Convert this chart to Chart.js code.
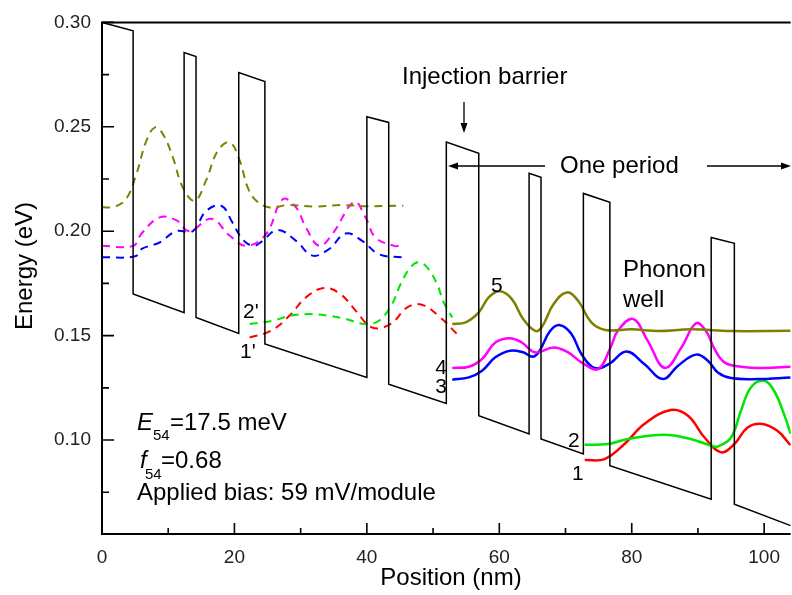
<!DOCTYPE html>
<html>
<head>
<meta charset="utf-8">
<script src="https://cdn.jsdelivr.net/npm/chart.js@4.4.0/dist/chart.umd.min.js"></script>
<style>
  html, body { margin: 0; padding: 0; background: #fff; }
  #wrap { width: 792px; height: 595px; }
</style>
</head>
<body>
<div id="wrap"><canvas id="myChart" width="792" height="595"></canvas></div>
<script>
// conduction band edge (position nm / energy eV)
const bandX = [0, 4.7, 4.7, 12.4, 12.4, 14.2, 14.2, 20.65, 20.65, 24.6, 24.6, 40.0, 40.0, 43.3, 43.3, 52.0,
               52.0, 56.9, 56.9, 64.5, 64.5, 66.3, 66.3, 72.7, 72.7, 76.7, 76.7, 92.0, 92.0, 95.5, 95.5, 104];
const bandY = [0.300, 0.296, 0.170, 0.161, 0.2856, 0.2836, 0.1587, 0.151, 0.276, 0.2717, 0.146, 0.130, 0.2548, 0.2521, 0.1267, 0.1175,
               0.2427, 0.2373, 0.1116, 0.1029, 0.2277, 0.2258, 0.1005, 0.0933, 0.2181, 0.2138, 0.0877, 0.0717, 0.197, 0.1942, 0.0693, 0.059];

// current period, solid
const s5x = [52.9, 54.9, 56.9, 58.4, 60.1, 61.9, 63.6, 65.4, 66.4, 68.2, 70.2, 71.9, 73.9, 76.0, 80.0, 84.0, 89.0, 95.0, 104];
const s5y = [0.1556, 0.1563, 0.1611, 0.1683, 0.1712, 0.1675, 0.158, 0.1523, 0.1540, 0.1651, 0.1707, 0.1667, 0.1563, 0.1527, 0.1530, 0.1522, 0.1530, 0.1522, 0.1523];

const s4x = [52.9, 55.4, 57.4, 59.4, 61.6, 63.4, 65.4, 68.2, 70.4, 72.4, 74.9, 76.8, 77.9, 80.2, 82.4, 85.0, 87.5, 89.7, 91.2, 92.5, 94.0, 96.5, 100, 104];
const s4y = [0.1345, 0.1351, 0.1388, 0.1467, 0.1488, 0.1467, 0.1420, 0.1443, 0.1420, 0.1372, 0.1340, 0.1443, 0.1523, 0.1580, 0.1476, 0.1345, 0.1443, 0.1559, 0.1523, 0.1436, 0.1372, 0.1351, 0.1345, 0.1351];

const s3x = [52.9, 55.4, 57.4, 59.4, 61.6, 63.6, 65.1, 66.1, 67.7, 69.2, 70.9, 72.4, 74.4, 76.6, 79.2, 81.9, 84.7, 87.0, 89.7, 91.5, 93.0, 95.0, 99.0, 104];
const s3y = [0.1289, 0.1300, 0.1332, 0.1396, 0.1428, 0.1420, 0.1399, 0.1428, 0.1523, 0.1550, 0.1508, 0.1412, 0.1345, 0.1365, 0.1424, 0.1364, 0.1292, 0.1356, 0.1409, 0.1380, 0.1324, 0.1297, 0.1292, 0.1300];

const s2x = [72.9, 76.4, 79.4, 84.9, 88.9, 92.0, 93.0, 95.0, 96.5, 98.0, 100.0, 101.5, 103.0, 104];
const s2y = [0.0977, 0.0981, 0.1005, 0.1025, 0.1005, 0.0973, 0.0969, 0.1012, 0.1140, 0.1252, 0.1284, 0.1236, 0.1124, 0.1030];

const s1x = [72.9, 75.9, 78.9, 81.9, 85.9, 88.5, 91.0, 93.5, 95.5, 97.5, 99.7, 102.0, 104];
const s1y = [0.0904, 0.0909, 0.0981, 0.1077, 0.1144, 0.1116, 0.1012, 0.0941, 0.0981, 0.1060, 0.1077, 0.1044, 0.0975];

// previous period, dashed
const d5x = [0, 2, 3.7, 5.2, 6.7, 8.0, 9.2, 10.7, 12.2, 14.0, 15.7, 17.5, 19.3, 20.8, 22.0, 23.3, 25.3, 28, 32, 36, 40, 45.5];
const d5y = [0.2114, 0.2118, 0.2157, 0.2274, 0.2433, 0.2497, 0.2465, 0.2354, 0.2210, 0.2146, 0.2242, 0.2386, 0.2425, 0.2338, 0.2210, 0.2146, 0.2114, 0.2125, 0.2118, 0.2125, 0.2120, 0.2122];

const d4x = [0, 4.7, 6.0, 8.7, 11.2, 13.2, 16.5, 19.3, 21.8, 24.8, 27.3, 29.3, 30.8, 32.8, 34.8, 38.1, 39.8, 41.3, 44.1, 45];
const d4y = [0.193, 0.193, 0.199, 0.2066, 0.2053, 0.2000, 0.2060, 0.1978, 0.1930, 0.1987, 0.2153, 0.2114, 0.2018, 0.1930, 0.1987, 0.2140, 0.2066, 0.1970, 0.1930, 0.1930];

const d3x = [0, 5.0, 6.0, 8.7, 11.2, 13.7, 15.7, 18.0, 19.7, 21.2, 22.8, 24.1, 26.5, 29.3, 31.8, 34.3, 36.8, 39.3, 41.8, 45.3];
const d3y = [0.1875, 0.1880, 0.1915, 0.1946, 0.2000, 0.2000, 0.2096, 0.2122, 0.2042, 0.1962, 0.1930, 0.1950, 0.2006, 0.1954, 0.1883, 0.1915, 0.1989, 0.1954, 0.1890, 0.1875];

const d2x = [22.3, 25.8, 28.3, 31.3, 34.3, 36.8, 39.6, 41.8, 43.8, 45.1, 46.6, 47.8, 49.1, 50.6, 51.6, 52.9];
const d2y = [0.1556, 0.1571, 0.1595, 0.1603, 0.1595, 0.1580, 0.1556, 0.1571, 0.1651, 0.1747, 0.1827, 0.1851, 0.1827, 0.1747, 0.1659, 0.1587];

const d1x = [22.3, 25.5, 28.3, 30.8, 33.5, 36.0, 38.3, 40.8, 43.6, 46.1, 48.3, 51.1, 53.6];
const d1y = [0.1491, 0.1523, 0.1595, 0.1683, 0.1728, 0.1699, 0.1620, 0.1539, 0.1556, 0.1635, 0.1648, 0.1587, 0.1508];

const xTicks = [0, 20, 40, 60, 80, 100];
const yTicks = [0.10, 0.15, 0.20, 0.25, 0.30];

const OLIVE = '#808000', MAGENTA = '#ff00ff', BLUE = '#0000ff', GREEN = '#00e600', RED = '#ff0000';
const FONT = 'Arial, "Liberation Sans", sans-serif';

const pts = (xs, ys) => xs.map((x, i) => ({x: x, y: ys[i]}));

function curve(xs, ys, color, dashed) {
    return {
        data: pts(xs, ys),
        borderColor: color,
        borderWidth: dashed ? 2 : 2.5,
        borderDash: dashed ? [8, 6] : [],
        showLine: true,
        pointRadius: 0,
        tension: 0.4
    };
}

const isTick = (list, v) => list.some(t => Math.abs(t - v) < 1e-6);

function arrowHead(ctx, x, y, dir) {
    // dir: 'left' | 'right' | 'down'
    ctx.beginPath();
    if (dir === 'down') {
        ctx.moveTo(x, y); ctx.lineTo(x - 3.5, y - 10); ctx.lineTo(x + 3.5, y - 10);
    } else {
        const s = dir === 'left' ? 1 : -1;
        ctx.moveTo(x, y); ctx.lineTo(x + s * 10, y - 3.5); ctx.lineTo(x + s * 10, y + 3.5);
    }
    ctx.closePath();
    ctx.fill();
}

const decor = {
    id: 'decor',
    afterDraw(chart) {
        const ctx = chart.ctx;
        const ca = chart.chartArea;
        const xs = chart.scales.x, ys = chart.scales.y;
        ctx.save();
        ctx.strokeStyle = '#000';
        ctx.fillStyle = '#000';

        // frame: top, left, bottom (right side runs off the page)
        ctx.lineWidth = 2;
        ctx.beginPath();
        ctx.moveTo(ca.right, ca.top); ctx.lineTo(ca.left, ca.top);
        ctx.lineTo(ca.left, ca.bottom); ctx.lineTo(ca.right, ca.bottom);
        ctx.stroke();

        // inward ticks
        ctx.lineWidth = 1.6;
        ctx.beginPath();
        xs.ticks.forEach(t => {
            const p = xs.getPixelForValue(t.value);
            const len = isTick(xTicks, t.value) ? 11 : 6;
            ctx.moveTo(p, ca.bottom); ctx.lineTo(p, ca.bottom - len);
        });
        ys.ticks.forEach(t => {
            const p = ys.getPixelForValue(t.value);
            const len = isTick(yTicks, t.value) ? 12 : 7;
            ctx.moveTo(ca.left, p); ctx.lineTo(ca.left + len, p);
        });
        ctx.stroke();

        // axis titles
        ctx.font = '24px ' + FONT;
        ctx.textAlign = 'center';
        ctx.textBaseline = 'middle';
        ctx.fillText('Position (nm)', 451, 578);
        ctx.save();
        ctx.translate(25, 266);
        ctx.rotate(-Math.PI / 2);
        ctx.fillText('Energy (eV)', 0, 0);
        ctx.restore();

        // annotations
        ctx.textBaseline = 'alphabetic';
        ctx.textAlign = 'left';
        ctx.font = '24px ' + FONT;
        ctx.fillText('Injection barrier', 402, 84);
        ctx.fillText('One period', 560, 173);
        ctx.fillText('Phonon', 623, 277);
        ctx.fillText('well', 623, 307);

        ctx.lineWidth = 1.3;
        ctx.beginPath();
        ctx.moveTo(464, 102); ctx.lineTo(464, 124);
        ctx.moveTo(452, 166); ctx.lineTo(545, 166);
        ctx.moveTo(707, 166); ctx.lineTo(786, 166);
        ctx.stroke();
        arrowHead(ctx, 464, 133, 'down');
        arrowHead(ctx, 448, 166, 'left');
        arrowHead(ctx, 791, 166, 'right');

        // level labels
        ctx.font = '21px ' + FONT;
        ctx.fillText('5', 491, 292);
        ctx.textAlign = 'right';
        ctx.fillText('4', 447, 374);
        ctx.fillText('3', 447, 393);
        ctx.textAlign = 'left';
        ctx.fillText('2', 568, 447);
        ctx.fillText('1', 572, 480);
        ctx.fillText("2'", 243, 318);
        ctx.fillText("1'", 240, 358);

        // parameters
        ctx.font = 'italic 24px ' + FONT;
        ctx.fillText('E', 137, 430);
        ctx.fillText('f', 140, 468);
        ctx.font = '15px ' + FONT;
        ctx.fillText('54', 153, 440);
        ctx.fillText('54', 145, 479);
        ctx.font = '24px ' + FONT;
        ctx.fillText('=17.5 meV', 170, 430);
        ctx.fillText('=0.68', 161, 468);
        ctx.fillText('Applied bias: 59 mV/module', 137, 500);

        ctx.restore();
    }
};

const myChart = document.getElementById('myChart');

let globalChart = new Chart(myChart, {
    type: 'scatter',
    data: {
        datasets: [
            {
                data: pts(bandX, bandY),
                borderColor: '#000',
                borderWidth: 1.5,
                showLine: true,
                pointRadius: 0,
                tension: 0
            },
            curve(d5x, d5y, OLIVE, true),
            curve(d4x, d4y, MAGENTA, true),
            curve(d3x, d3y, BLUE, true),
            curve(d2x, d2y, GREEN, true),
            curve(d1x, d1y, RED, true),
            curve(s5x, s5y, OLIVE, false),
            curve(s4x, s4y, MAGENTA, false),
            curve(s3x, s3y, BLUE, false),
            curve(s2x, s2y, GREEN, false),
            curve(s1x, s1y, RED, false)
        ]
    },
    options: {
        responsive: false,
        animation: false,
        layout: { padding: { top: 22, right: 0, left: 0, bottom: 0 } },
        scales: {
            x: {
                type: 'linear',
                min: 0,
                max: 104,
                afterFit: s => { s.height = 61; },
                grid: { display: false, drawTicks: false },
                border: { display: false },
                ticks: {
                    stepSize: 10,
                    includeBounds: false,
                    autoSkip: false,
                    maxRotation: 0,
                    padding: 12,
                    color: '#222',
                    font: { family: FONT, size: 19 },
                    callback: v => isTick(xTicks, v) ? String(v) : ''
                }
            },
            y: {
                min: 0.055,
                max: 0.30,
                afterFit: s => { s.width = 102; },
                grid: { display: false, drawTicks: false },
                border: { display: false },
                ticks: {
                    stepSize: 0.025,
                    includeBounds: false,
                    autoSkip: false,
                    padding: 11,
                    color: '#222',
                    font: { family: FONT, size: 19 },
                    callback: v => isTick(yTicks, v) ? v.toFixed(2) : ''
                }
            }
        },
        plugins: {
            legend: { display: false },
            tooltip: { enabled: false }
        }
    },
    plugins: [decor]
});
</script>
</body>
</html>
